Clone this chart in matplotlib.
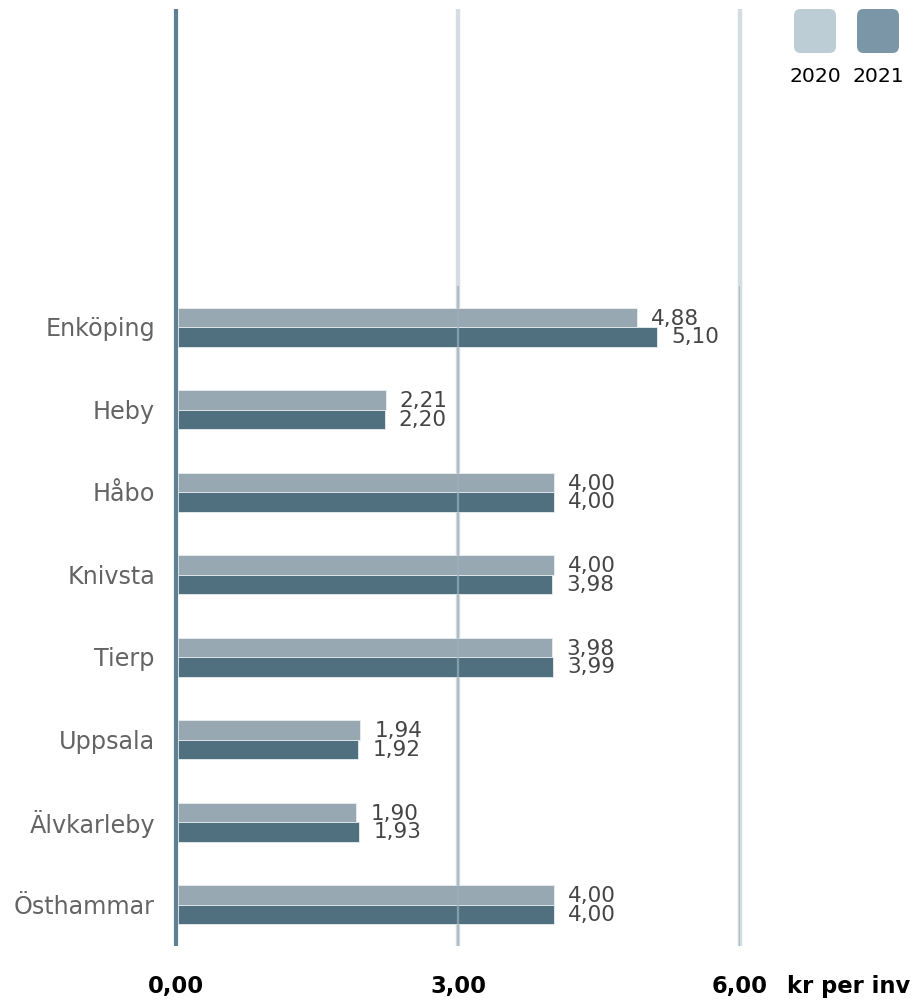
import matplotlib
matplotlib.use("Agg")
import matplotlib.pyplot as plt
from matplotlib.patches import FancyBboxPatch
import numpy as np

categories = ["Enköping", "Heby", "Håbo", "Knivsta", "Tierp", "Uppsala", "Älvkarleby", "Östhammar"]
values_2020 = [4.88, 2.21, 4.00, 4.00, 3.98, 1.94, 1.90, 4.00]
values_2021 = [5.10, 2.20, 4.00, 3.98, 3.99, 1.92, 1.93, 4.00]
series_names = ["2020", "2021"]
xticks = [0, 3, 6]
xtick_labels = ["0,00", "3,00", "6,00"]
unit_label = "kr per inv"

W, H = 923, 1001
fig = plt.figure(figsize=(W / 100, H / 100), dpi=100)
plt.rcParams['font.family'] = ['DejaVu Sans']

# axes: x 0 at px 176, 6 at px 740 ; y from px 9 to 946
left, right = 176, 740
top, bottom = 9, 946
ax = fig.add_axes([left / W, 1 - bottom / H, (right - left) / W, (bottom - top) / H])
ax.set_xlim(0, 6)
n = len(categories)
cat_px = 82.5
extra = (286 - top) / cat_px
ax.set_ylim(n - 0.5, -0.5 - extra)
ax.axis("off")

# light gridlines full height
for xv in xticks[1:]:
    ax.plot([xv, xv], [n - 0.5, -0.5 - extra], color="#d4dde3", lw=3.2, zorder=1,
            solid_capstyle="butt", clip_on=False)
# axis line at zero
ax.plot([0, 0], [n - 0.5, -0.5 - extra], color="#5f7f92", lw=3.0, zorder=5,
        solid_capstyle="butt", clip_on=False)

y = np.arange(n)
bh = 19.5 / cat_px
ax.barh(y - bh / 2, values_2020, height=bh, left=0.02, color="#97a8b2", edgecolor="#e8eef1",
        linewidth=0.6, zorder=2)
ax.barh(y + bh / 2, values_2021, height=bh, left=0.02, color="#51707f", edgecolor="#e8eef1",
        linewidth=0.6, zorder=2)

# darker gridline segment in the bar region, drawn over bars
for xv in xticks[1:]:
    ax.plot([xv, xv], [n - 0.5, -0.5], color="#9fb0bb", lw=1.6, alpha=0.7, zorder=3,
            solid_capstyle="butt")

off = 16 / 94
for i in range(n):
    ax.text(values_2020[i] + off, y[i] - bh / 2 + 0.015, f"{values_2020[i]:.2f}".replace(".", ","),
            ha="left", va="center", fontsize=15.5, color="#454545", zorder=6)
    ax.text(values_2021[i] + off, y[i] + bh / 2 + 0.005, f"{values_2021[i]:.2f}".replace(".", ","),
            ha="left", va="center", fontsize=15.5, color="#454545", zorder=6)
    ax.text(-21 / 94, y[i] + 0.025, categories[i], ha="right", va="center", fontsize=17.2,
            color="#646464")

# x tick labels
for xv, lab in zip(xticks, xtick_labels):
    fig.text((left + xv * 94) / W, 1 - 987 / H, lab, ha="center", va="center",
             fontsize=16.3, fontweight="bold", color="black")
fig.text(787 / W, 1 - 987 / H, unit_label, ha="left", va="center",
         fontsize=16.3, fontweight="bold", color="black")

# legend
leg_colors = ["#bccdd6", "#7b96a7"]
for i, (name, c) in enumerate(zip(series_names, leg_colors)):
    x0 = 794 + i * 63
    patch = FancyBboxPatch((x0 / W, 1 - 53 / H), 42 / W, 44 / H,
                           boxstyle="round,pad=0,rounding_size=0.007",
                           transform=fig.transFigure, facecolor=c, edgecolor="none")
    fig.patches.append(patch)
    fig.text((x0 + 21) / W, 1 - 76 / H, name, ha="center", va="center",
             fontsize=14.7, color="black")

fig.savefig("out.png", dpi=100)
